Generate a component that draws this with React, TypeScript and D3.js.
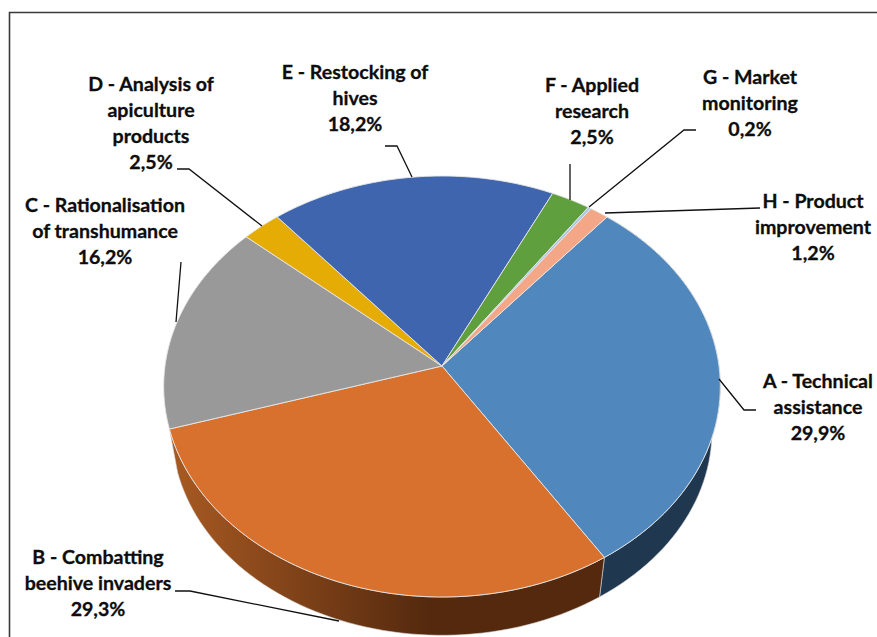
import React from "react";
import * as d3 from "d3";

const categories = ["A - Technical assistance", "B - Combatting beehive invaders", "C - Rationalisation of transhumance", "D - Analysis of apiculture products", "E - Restocking of hives", "F - Applied research", "G - Market monitoring", "H - Product improvement"];
const values = [29.9, 29.3, 16.2, 2.5, 18.2, 2.5, 0.2, 1.2];
const valueLabels = ["29,9%", "29,3%", "16,2%", "2,5%", "18,2%", "2,5%", "0,2%", "1,2%"];
const labelLines = [
  ["A - Technical", "assistance"],
  ["B - Combatting", "beehive invaders"],
  ["C - Rationalisation", "of transhumance"],
  ["D - Analysis of", "apiculture", "products"],
  ["E - Restocking of", "hives"],
  ["F - Applied", "research"],
  ["G - Market", "monitoring"],
  ["H - Product", "improvement"],
];
const colors = ["#5088bd", "#d8712e", "#999999", "#e4ac05", "#3f65ae", "#609f3e", "#a9c8e6", "#f4a786"];

// layout
const W = 877, H = 637;
const cx = 442, cy = 366, R = 277, S = 208.5, K = -0.0974;
const startDeg = 39.8;
const vanishY = 1874, shrink = 0.97;
const labelX = [818, 98, 105, 151, 355, 592, 750, 813];
const labelY = [388, 564, 212, 91, 79, 92, 84, 208];
const lineStep = 26;
const leaders: [number, number][][] = [
  [[719, 379], [744, 410], [756, 410]],
  [[175, 591], [190, 591], [339, 621]],
  [[181, 262], [176, 322]],
  [[177, 169], [189, 169], [262, 226]],
  [[385, 146], [397, 146], [412, 177]],
  [[570, 164], [570, 200]],
  [[696, 130], [684, 130], [589, 207]],
  [[760, 208], [605, 213]],
];

const project = (t: number): [number, number] => {
  const u = Math.sin(t), v = -Math.cos(t);
  const d = 1 + K * v;
  return [cx + (R * u) / d, cy + (S * v) / d];
};
const lower = ([x, y]: [number, number]): [number, number] => [cx + (x - cx) * shrink, vanishY + (y - vanishY) * shrink];

const arcs = d3.pie<number>().sort(null).startAngle((startDeg * Math.PI) / 180).endAngle((startDeg * Math.PI) / 180 + 2 * Math.PI)(values);
const line = d3.line();
const sample = (a: number, b: number) => d3.range(0, 61).map((i) => project(a + ((b - a) * i) / 60));

export default function App() {
  return (
    <svg width={W} height={H} viewBox={`0 0 ${W} ${H}`} style={{ position: "absolute", left: 0, top: 0, background: "#fff" }}>
      <defs>
        <linearGradient id="sideB" gradientUnits="userSpaceOnUse" x1={170} y1={0} x2={430} y2={0}>
          <stop offset="0" stopColor="#a85a22" />
          <stop offset="1" stopColor="#54290e" />
        </linearGradient>
      </defs>
      <path d={`M${9.5},${H}V${12.5}H${W}`} fill="none" stroke="#3a3a3a" strokeWidth={1.6} />
      {[0, 1].map((i) => {
        const a = arcs[i];
        const top = sample(a.startAngle, a.endAngle);
        const bottom = top.map(lower).reverse();
        return (
          <path key={i} d={line([...top, ...bottom])! + "Z"} fill={i === 0 ? "#20384f" : "url(#sideB)"} stroke="#d9d9d9" strokeWidth={0.6} />
        );
      })}
      {arcs.map((a, i) => {
        const pts = sample(a.startAngle, a.endAngle);
        return (
          <path key={categories[i]} d={line([[cx, cy], ...pts])! + "Z"} fill={colors[i]} stroke="#e6e6e6" strokeWidth={0.9} strokeLinejoin="round" />
        );
      })}
      {leaders.map((l, i) => (
        <path key={i} d={line(l)!} fill="none" stroke="#111" strokeWidth={1.3} />
      ))}
      {labelLines.map((ls, i) => (
        <text key={i} textAnchor="middle" fontFamily="Lato, sans-serif" fontWeight={700} fontSize={19.6} fill="#0d0d0d" stroke="#0d0d0d" strokeWidth={0.3}>
          {[...ls, valueLabels[i]].map((s, j) => (
            <tspan key={j} x={labelX[i]} y={labelY[i] + j * lineStep}>{s}</tspan>
          ))}
        </text>
      ))}
    </svg>
  );
}
